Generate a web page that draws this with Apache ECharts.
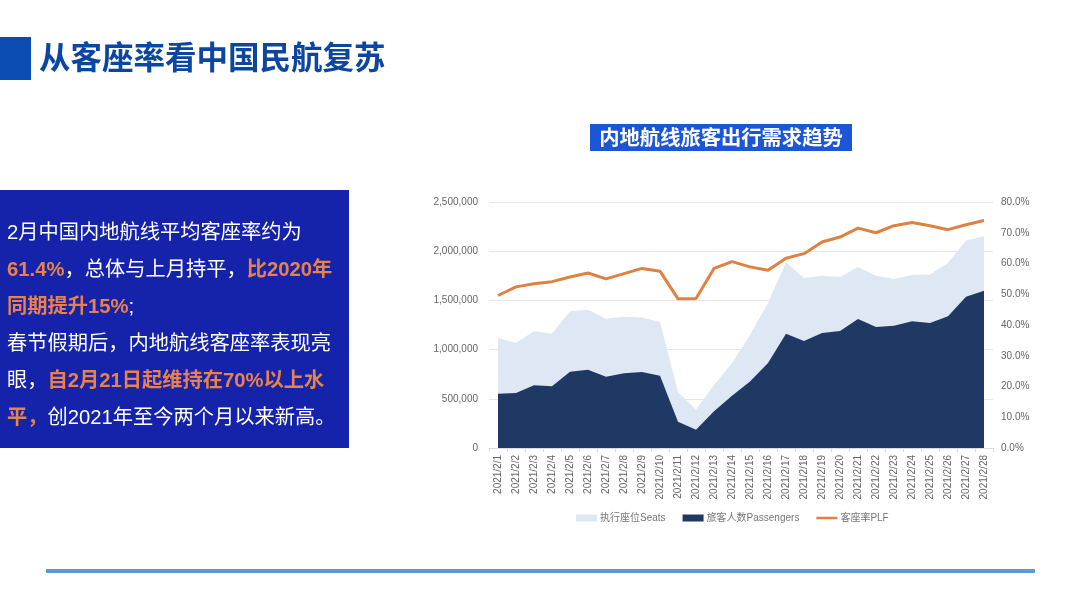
<!DOCTYPE html>
<html>
<head>
<meta charset="utf-8">
<style>
  html, body { margin: 0; padding: 0; background: #fff; }
  #chart { width: 1080px; height: 607px; }
</style>
<script src="https://cdn.jsdelivr.net/npm/echarts@6/dist/echarts.min.js"></script>
</head>
<body>
<div id="chart"></div>
<script>
const days = ['2021/2/1','2021/2/2','2021/2/3','2021/2/4','2021/2/5','2021/2/6','2021/2/7',
  '2021/2/8','2021/2/9','2021/2/10','2021/2/11','2021/2/12','2021/2/13','2021/2/14',
  '2021/2/15','2021/2/16','2021/2/17','2021/2/18','2021/2/19','2021/2/20','2021/2/21',
  '2021/2/22','2021/2/23','2021/2/24','2021/2/25','2021/2/26','2021/2/27','2021/2/28']
const seats = [1118000,1067000,1186000,1162000,1389000,1406000,1314000,1335000,1325000,1280000,
  569000,390000,640000,864000,1152000,1474000,1887000,1728000,1751000,1738000,1840000,
  1751000,1717000,1758000,1762000,1880000,2110000,2151000]
const passengers = [552000,559000,637000,627000,776000,796000,725000,759000,772000,735000,
  268000,186000,373000,532000,677000,864000,1162000,1087000,1169000,1189000,1311000,
  1230000,1243000,1287000,1270000,1338000,1538000,1599000]
const plf = [49.6,52.4,53.4,54.1,55.6,56.9,55.0,56.7,58.4,57.5,48.5,48.6,58.4,60.6,
  58.9,57.8,61.7,63.2,67.0,68.6,71.5,70.0,72.3,73.3,72.3,71.0,72.6,74.0]

const pageTitle = '从客座率看中国民航复苏'
const chartTitle = '内地航线旅客出行需求趋势'
const seriesNames = ['执行座位Seats', '旅客人数Passengers', '客座率PLF']

const FONT = '"Liberation Sans", "Noto Sans CJK SC", sans-serif'
const chart = echarts.init(document.getElementById('chart'))

// 左侧说明文字，每行一段
const panelText = [
  '{w|2月中国内地航线平均客座率约为}',
  '{o|61.4%}{w|，总体与上月持平，}{o|比2020年}',
  '{o|同期提升15%}{w|;}',
  '{w|春节假期后，内地航线客座率表现亮}',
  '{w|眼，}{o|自2月21日起维持在70%以上水}',
  '{o|平，}{w|创2021年至今两个月以来新高。}'
].join('\n')

const option = {
  backgroundColor: '#fff',
  textStyle: { fontFamily: FONT },
  animation: false,
  grid: { left: 489, right: 87, top: 202, bottom: 159 },
  legend: {
    top: 508,
    left: 571,
    itemGap: 17,
    itemWidth: 21,
    itemHeight: 7,
    textStyle: { fontSize: 10, color: '#777', padding: [0, 0, 0, -2] },
    data: [
      { name: seriesNames[0], icon: 'rect' },
      { name: seriesNames[1], icon: 'rect' },
      // 折线图例不要圆点，只留一条线
      { name: seriesNames[2], icon: 'path://M0 0L0 0ZM0 2.2H21V4.8H0ZM0 7L0 7Z' }
    ]
  },
  xAxis: {
    type: 'category',
    boundaryGap: true,
    data: days,
    axisLine: { lineStyle: { color: '#dcdcdc' } },
    axisTick: { show: true, length: 4, lineStyle: { color: '#dcdcdc' } },
    axisLabel: { rotate: 90, interval: 0, fontSize: 10, color: '#666', margin: 7 }
  },
  yAxis: [
    {
      type: 'value',
      min: 0,
      max: 2500000,
      interval: 500000,
      axisLine: { show: false },
      axisTick: { show: false },
      splitLine: { lineStyle: { color: '#e6e6e6' } },
      axisLabel: {
        fontSize: 10,
        color: '#666',
        margin: 11,
        formatter: v => v.toLocaleString('en-US')
      }
    },
    {
      type: 'value',
      min: 0,
      max: 80,
      interval: 10,
      axisLine: { show: false },
      axisTick: { show: false },
      splitLine: { show: false },
      axisLabel: {
        fontSize: 10,
        color: '#666',
        margin: 8,
        formatter: v => v.toFixed(1) + '%'
      }
    }
  ],
  series: [
    {
      name: seriesNames[0],
      type: 'line',
      data: seats,
      symbol: 'none',
      lineStyle: { width: 0 },
      itemStyle: { color: '#dde8f4' },
      areaStyle: { color: '#dde8f4', opacity: 1 }
    },
    {
      name: seriesNames[1],
      type: 'line',
      data: passengers,
      symbol: 'none',
      lineStyle: { width: 0 },
      itemStyle: { color: '#1f3864' },
      areaStyle: { color: '#1f3864', opacity: 1 }
    },
    {
      name: seriesNames[2],
      type: 'line',
      yAxisIndex: 1,
      data: plf,
      symbol: 'none',
      lineStyle: { width: 3, color: '#dd8240' },
      itemStyle: { color: '#dd8240' }
    }
  ],
  graphic: [
    { type: 'rect', shape: { x: 0, y: 37, width: 31, height: 43 }, style: { fill: '#0b4db3' } },
    {
      type: 'text', x: 39, y: 57,
      style: {
        text: pageTitle, fill: '#0b47a1', fontSize: 31.5, fontWeight: 'bold',
        fontFamily: '"Noto Sans CJK SC"', verticalAlign: 'middle'
      }
    },
    { type: 'rect', shape: { x: 590, y: 124, width: 262, height: 27 }, style: { fill: '#1a56d6' } },
    {
      type: 'text', x: 721, y: 137,
      style: {
        text: chartTitle, fill: '#fff', fontSize: 20.3, fontWeight: 'bold',
        fontFamily: '"Noto Sans CJK SC"', align: 'center', verticalAlign: 'middle'
      }
    },
    { type: 'rect', shape: { x: 0, y: 190, width: 349, height: 258 }, style: { fill: '#1522aa' } },
    {
      type: 'text', x: 7, y: 215,
      style: {
        text: panelText,
        fontFamily: '"Noto Sans CJK SC"',
        lineHeight: 37,
        rich: {
          w: { fill: '#fff', fontSize: 20.25, lineHeight: 37, fontFamily: FONT },
          o: { fill: '#e8814a', fontSize: 20.25, lineHeight: 37, fontWeight: 'bold', fontFamily: FONT }
        }
      }
    },
    { type: 'rect', shape: { x: 46, y: 569, width: 989, height: 4 }, style: { fill: '#5b9bd5' } }
  ]
}
chart.setOption(option)
</script>
</body>
</html>
